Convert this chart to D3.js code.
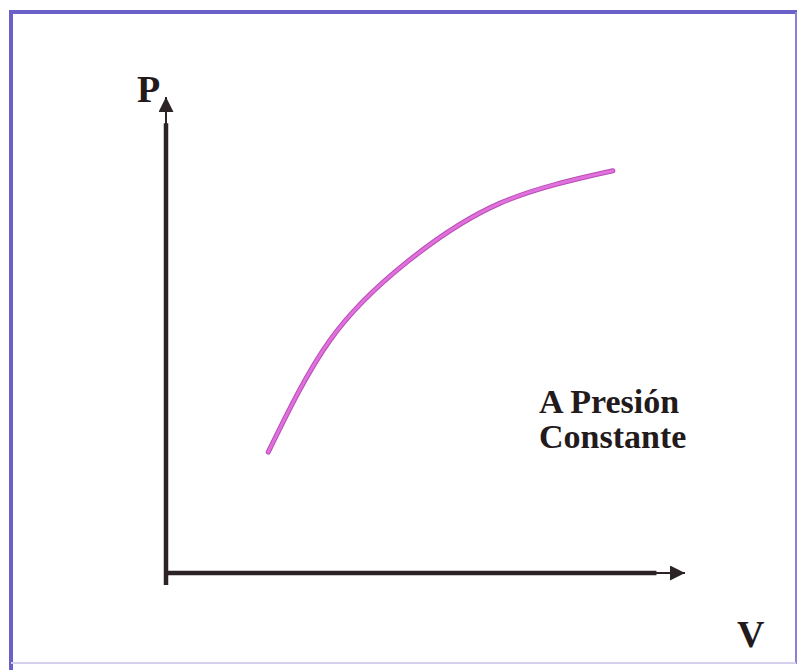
<!DOCTYPE html>
<html>
<head>
<meta charset="utf-8">
<script src="https://cdn.jsdelivr.net/npm/d3@7"></script>
<style>
  body { margin: 0; background: #fff; }
</style>
</head>
<body>
<div id="my_dataviz"></div>
<script>
// curve values (V, P) in arbitrary units
var volumen = [19.7, 31.6, 46.4, 64.4, 86.1];
var presion = [25.4, 48.9, 65.3, 77.7, 84.5];
var ejeX = "V", ejeY = "P";
var etiqueta = ["A Presión", "Constante"];

var width = 800,
    height = 670;

var svg = d3.select("#my_dataviz")
  .append("svg")
  .attr("width", width)
  .attr("height", height);

// frame
svg.append("line").attr("x1", 11).attr("y1", 12).attr("x2", 797).attr("y2", 12)
  .attr("stroke", "#6a60c9").attr("stroke-width", 4);
svg.append("line").attr("x1", 11).attr("y1", 10).attr("x2", 11).attr("y2", 670)
  .attr("stroke", "#6a60c9").attr("stroke-width", 4);
svg.append("line").attr("x1", 796).attr("y1", 12).attr("x2", 796).attr("y2", 664)
  .attr("stroke", "#8a82d4").attr("stroke-width", 2);
svg.append("line").attr("x1", 11).attr("y1", 663).attr("x2", 796).attr("y2", 663)
  .attr("stroke", "#d4d0ee").attr("stroke-width", 2);

const x = d3.scaleLinear().domain([0, 100]).range([166, 685]);
const y = d3.scaleLinear().domain([0, 100]).range([573, 97]);

// arrowheads
var defs = svg.append("defs");
defs.append("marker")
  .attr("id", "flecha")
  .attr("viewBox", "0 0 10 10")
  .attr("refX", 10).attr("refY", 5)
  .attr("markerUnits", "userSpaceOnUse")
  .attr("markerWidth", 17).attr("markerHeight", 15)
  .attr("orient", "auto")
  .append("path")
  .attr("d", "M0,0 L10,5 L0,10 Z")
  .attr("fill", "#2b2325");

var axisColor = "#2b2325";

// y axis: thick shaft, thin tip with arrow
svg.append("line")
  .attr("x1", x(0)).attr("y1", y(-2.5)).attr("x2", x(0)).attr("y2", y(94.5))
  .attr("stroke", axisColor).attr("stroke-width", 4.5);
svg.append("line")
  .attr("x1", x(0)).attr("y1", y(94)).attr("x2", x(0)).attr("y2", y(100))
  .attr("stroke", axisColor).attr("stroke-width", 2)
  .attr("marker-end", "url(#flecha)");

// x axis
svg.append("line")
  .attr("x1", x(0)).attr("y1", y(0)).attr("x2", x(94.5)).attr("y2", y(0))
  .attr("stroke", axisColor).attr("stroke-width", 4.5);
svg.append("line")
  .attr("x1", x(94)).attr("y1", y(0)).attr("x2", x(100)).attr("y2", y(0))
  .attr("stroke", axisColor).attr("stroke-width", 2)
  .attr("marker-end", "url(#flecha)");

// curve
var datos = volumen.map(function(v, i) { return { v: v, p: presion[i] }; });
var linea = d3.line()
  .x(function(d) { return x(d.v) })
  .y(function(d) { return y(d.p) })
  .curve(d3.curveNatural);

svg.append("path")
  .datum(datos)
  .attr("fill", "none")
  .attr("stroke", "#b84cb6")
  .attr("stroke-width", 5)
  .attr("stroke-linecap", "round")
  .attr("d", linea);
svg.append("path")
  .datum(datos)
  .attr("fill", "none")
  .attr("stroke", "#e070dc")
  .attr("stroke-width", 3)
  .attr("stroke-linecap", "round")
  .attr("d", linea);

// labels
var font = "Liberation Serif, DejaVu Serif, serif";
svg.append("text")
  .attr("x", 137).attr("y", 102)
  .style("font-family", font).attr("font-weight", "bold")
  .attr("font-size", 38).attr("fill", "#231a1c")
  .text(ejeY);
svg.append("text")
  .attr("x", 737).attr("y", 647)
  .style("font-family", font).attr("font-weight", "bold")
  .attr("font-size", 38).attr("fill", "#231a1c")
  .text(ejeX);

svg.selectAll(".etiqueta")
  .data(etiqueta)
  .enter()
  .append("text")
  .attr("class", "etiqueta")
  .attr("x", 539)
  .attr("y", function(d, i) { return 413 + i * 35; })
  .style("font-family", font).attr("font-weight", "bold")
  .attr("font-size", 34).attr("fill", "#231a1c")
  .text(function(d) { return d; });
</script>
</body>
</html>
